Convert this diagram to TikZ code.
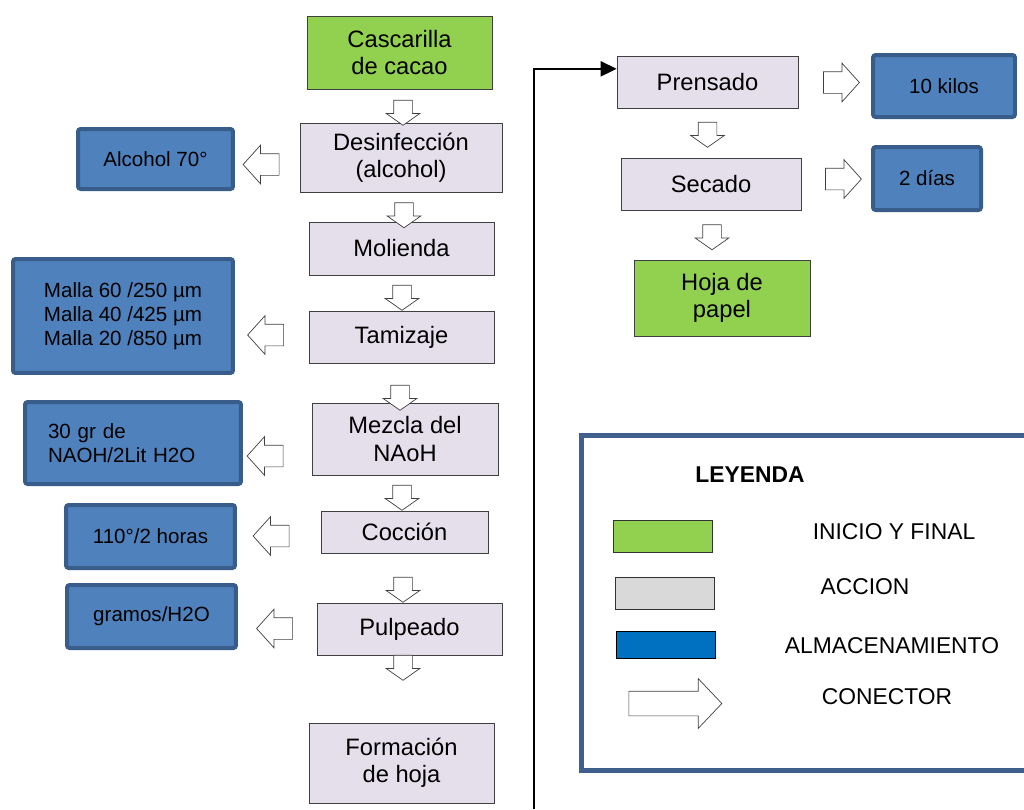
\documentclass[tikz,border=0pt]{standalone}
\usepackage{fontspec}
\setmainfont{Liberation Sans}
\usetikzlibrary{shapes.arrows,arrows.meta,calc}

\definecolor{verde}{HTML}{92D050}
\definecolor{lila}{HTML}{E5DFEC}
\definecolor{azul}{HTML}{4F81BD}
\definecolor{azulborde}{HTML}{385D8A}
\definecolor{gris}{HTML}{D9D9D9}
\definecolor{azulley}{HTML}{0070C0}
\definecolor{marco}{HTML}{3F5F8C}

\begin{document}
\begin{tikzpicture}[x=0.02cm, y=-0.02cm,
		ini/.style = {rectangle, draw=black!75,	fill=verde,	thin, align=center, font=\fontsize{13.5}{15.5}\selectfont},
		acc/.style = {rectangle, draw=black!75,	fill=lila,	thin, align=center, font=\fontsize{13.5}{15.5}\selectfont},
		alm/.style = {rectangle, draw=azulborde, fill=azul, line width=0.08cm, rounded corners=1.5pt, align=center, font=\fontsize{11.7}{13.6}\selectfont},
		fb/.style  = {single arrow, draw=black!75, fill=white, thin, rotate=-90, inner xsep=0pt, inner ysep=0.18cm, single arrow head extend=0.15cm, minimum height=0.5cm, single arrow tip angle=110},
		fl/.style  = {single arrow, draw=black!75, fill=white, thin, inner xsep=0pt, inner ysep=0.21cm, single arrow head extend=0.17cm, minimum height=0.72cm, single arrow tip angle=96},
		con/.style = {-{Triangle[length=0.32cm, width=0.3cm]}, line width=0.04cm},
		ley/.style = {font=\fontsize{13}{15}\selectfont},
		sw/.style  = {rectangle, draw=black!80, thin, minimum width=1.98cm},
		]
		\useasboundingbox (0,0) rectangle (1024,809);
		
		% === === Nodes === ===
		\node[ini, minimum width=3.7cm, minimum height=1.46cm]	(cascarilla)	at	(399.5, 52.5)	{Cascarilla\\de cacao};
		\node[acc, minimum width=4.04cm, minimum height=1.38cm]	(desinf)	at	(401, 157.5)	{Desinfección\\(alcohol)};
		\node[acc, minimum width=3.7cm, minimum height=1.06cm]	(molienda)	at	(401.5, 248.5)	{Molienda};
		\node[acc, minimum width=3.7cm, minimum height=1.04cm]	(tamizaje)	at	(401.5, 337)	{Tamizaje};
		\node[acc, minimum width=3.72cm, minimum height=1.44cm]	(mezcla)	at	(405, 439)	{Mezcla del\\NAoH};
		\node[acc, minimum width=3.34cm, minimum height=0.84cm]	(coccion)	at	(404.5, 532)	{Cocción};
		\node[acc, minimum width=3.7cm, minimum height=1.04cm]	(pulpeado)	at	(409.5, 629)	{Pulpeado};
		\node[acc, minimum width=3.7cm, minimum height=1.6cm]	(formacion)	at	(401.5, 763)	{Formación\\de hoja};
		
		\node[acc, minimum width=3.62cm, minimum height=1.04cm]	(prensado)	at	(707.5, 82)	{Prensado};
		\node[acc, minimum width=3.6cm, minimum height=1.04cm]	(secado)	at	(711, 184)	{Secado};
		\node[ini, minimum width=3.52cm, minimum height=1.52cm]	(hoja)		at	(722, 298)	{Hoja de\\papel};
		
		\node[alm, minimum width=3.1cm, minimum height=1.2cm]	(alcohol)	at	(155.5, 159)	{Alcohol 70°};
		\node[alm, minimum width=4.4cm, minimum height=2.28cm]	(malla)		at	(123, 316)	{Malla 60 /250 µm\\Malla 40 /425 µm\\Malla 20 /850 µm};
		\node[alm, minimum width=4.32cm, minimum height=1.64cm, text width=3.4cm, align=left]	(naoh)	at	(133, 443)	{30 gr de\\NAOH/2Lit H2O};
		\node[alm, minimum width=3.38cm, minimum height=1.26cm]	(horas)		at	(150.5, 536.5)	{110°/2 horas};
		\node[alm, minimum width=3.38cm, minimum height=1.26cm]	(gramos)	at	(151.5, 616.5)	{gramos/H2O};
		\node[alm, minimum width=2.84cm, minimum height=1.24cm]	(kilos)		at	(944, 86)	{10 kilos};
		\node[alm, minimum width=2.16cm, minimum height=1.26cm]	(dias)		at	(927, 178.5)	{2 días};
		
		% === === Flechas === ===
		\node[fb]	(fb1)	at	(403, 109.5)	{};
		\node[fb]	(fb2)	at	(404, 212)		{};
		\node[fb]	(fb3)	at	(402, 294.5)	{};
		\node[fb]	(fb4)	at	(400, 394.5)	{};
		\node[fb]	(fb5)	at	(402, 494.5)	{};
		\node[fb]	(fb6)	at	(403, 586.5)	{};
		\node[fb]	(fb7)	at	(403, 664.5)	{};
		\node[fb]	(fb8)	at	(707.5, 131.5)	{};
		\node[fb]	(fb9)	at	(712, 234)		{};
		
		\node[fl, rotate=180]	(fl1)	at	(266, 164.5)	{};
		\node[fl, rotate=180]	(fl2)	at	(270.5, 335)	{};
		\node[fl, rotate=180]	(fl3)	at	(270, 456)		{};
		\node[fl, rotate=180]	(fl4)	at	(276, 536)		{};
		\node[fl, rotate=180]	(fl5)	at	(279.5, 628.5)	{};
		\node[fl]				(fr1)	at	(836.5, 82.5)	{};
		\node[fl]				(fr2)	at	(838.5, 179)	{};
		
		\coordinate (arranque) at (534, 809);
		\draw[con]	(arranque)	|-	($(prensado.north west)!0.25!(prensado.south west)$);
		
		% === === Leyenda === ===
		\node[draw=marco, line width=0.1cm, inner sep=0, minimum width=9.17cm, minimum height=6.7cm]	(leyenda)	at	(810.75, 603)	{};
		\node[ley, font=\fontsize{13}{15}\selectfont\bfseries]	(titulo)	at	(750, 475)	{LEYENDA};
		\node[sw, fill=verde, minimum height=0.64cm]		(sw1)	at	(663, 536)		{};
		\node[sw, fill=gris, minimum height=0.64cm]		(sw2)	at	(664.5, 593)	{};
		\node[sw, fill=azulley, draw=black, minimum height=0.54cm]	(sw3)	at	(665.5, 644.5)	{};
		\node[fl, inner ysep=0.24cm, single arrow head extend=0.25cm, minimum height=1.86cm, single arrow tip angle=93]	(sw4)	at	(669.5, 703.5)	{};
		\node[ley]	(t1)	at	(894, 532)	{INICIO Y FINAL};
		\node[ley]	(t2)	at	(865, 587)	{ACCION};
		\node[ley]	(t3)	at	(892, 646)	{ALMACENAMIENTO};
		\node[ley]	(t4)	at	(887, 697)	{CONECTOR};
		
	\end{tikzpicture}
\end{document}
